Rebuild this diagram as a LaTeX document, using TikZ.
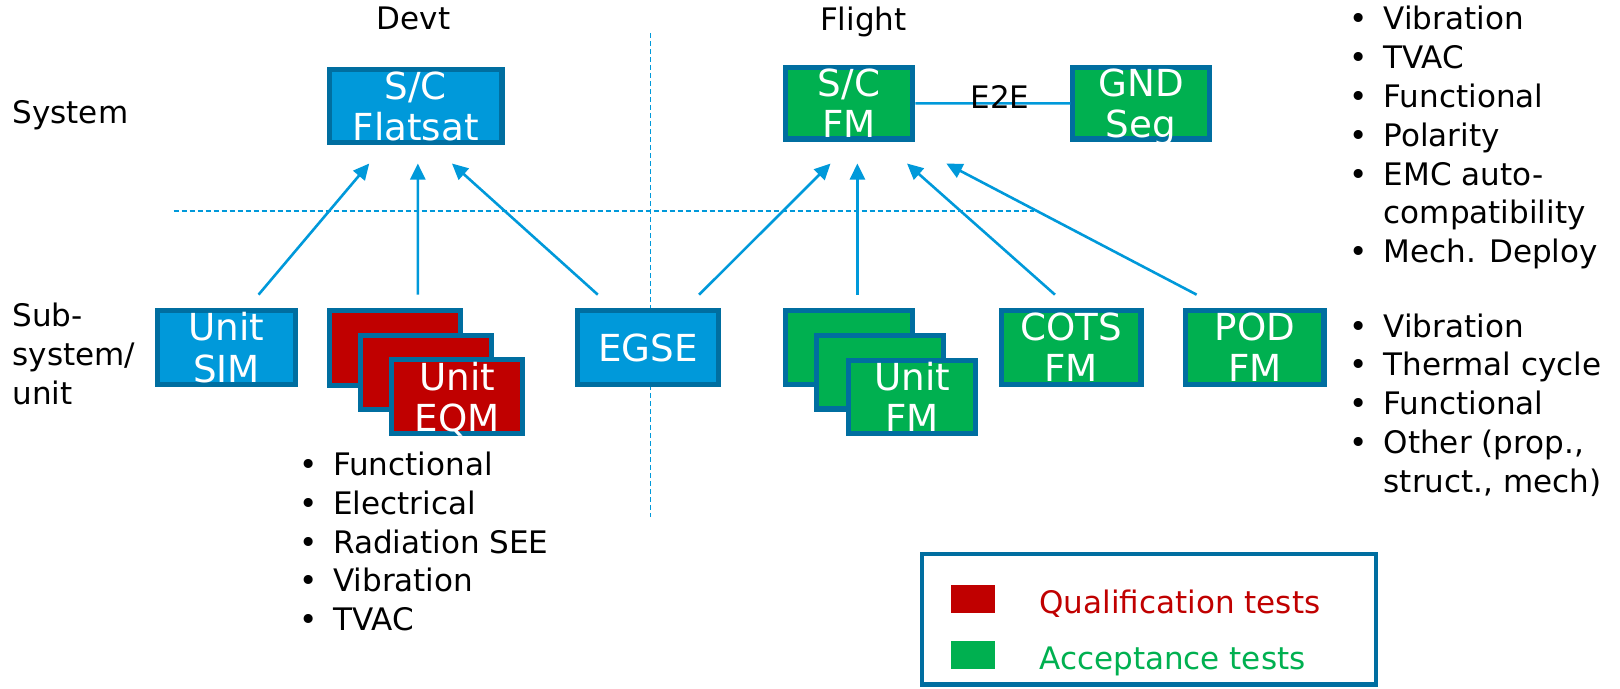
\documentclass[tikz,border=0pt]{standalone}
\usepackage{fontspec}
\setmainfont{DejaVu Sans}
\usetikzlibrary{arrows.meta,calc}

\definecolor{skyblue}{RGB}{0,153,218}
\definecolor{edgeblue}{RGB}{0,110,160}
\definecolor{qualred}{RGB}{192,0,0}
\definecolor{accgreen}{RGB}{0,176,80}

\newcommand{\bul}[1]{\makebox[33pt][l]{\textbullet}#1}
\newcommand{\cont}[1]{\hspace*{33pt}#1}

\begin{document}
\begin{tikzpicture}[x=1pt,y=-1pt,scale=1.034,transform shape,
    box/.style={draw=edgeblue,line width=5.2pt,text=white,align=center,inner sep=0pt,
      text depth=0pt,font=\fontsize{36}{40}\selectfont},
    devbox/.style={box,fill=skyblue},
    qualbox/.style={box,fill=qualred},
    flightbox/.style={box,fill=accgreen},
    heading/.style={font=\fontsize{30}{37.5}\selectfont,inner sep=0pt,text depth=0pt},
    bullets/.style={heading,align=left,anchor=north west},
    feed/.style={-{Triangle[length=16pt,width=15pt]},skyblue,line width=2.6pt},
    divider/.style={skyblue,line width=1.8pt,dash pattern=on 5pt off 3pt}]

  \useasboundingbox (0,0) rectangle (1566.7,666.3);

  % dividers
  \draw[divider] (629,32) -- (629,500);
  \draw[divider] (168,204) -- (1000,204);

  % headings
  \node[heading] (devt) at (400,18) {Devt};
  \node[heading] (flight) at (835,18) {Flight};
  \node[heading,anchor=west] (system) at (12,108) {System};
  \node[heading,anchor=west,align=left] (subsys) at (12,342) {Sub-\\system/\\unit};

  % system level
  \node[devbox,minimum width=167,minimum height=70] (flatsat) at (402,102.5) {S/C\\Flatsat};
  \node[flightbox,minimum width=123,minimum height=69] (scfm) at (821,100) {S/C\\FM};
  \node[flightbox,minimum width=132,minimum height=69] (gnd) at (1103.5,100) {GND\\Seg};
  \draw[skyblue,line width=2.6pt] (scfm) -- (gnd);
  \node[heading] (e2e) at (967,94) {E2E};

  % unit level
  \node[devbox,minimum width=133,minimum height=71] (sim) at (219,336) {Unit\\SIM};
  \node[qualbox,minimum width=127,minimum height=72] (eqma) at (382,336.5) {};
  \node[qualbox,minimum width=127,minimum height=72] (eqmb) at ($(eqma)+(30,23.5)$) {};
  \node[qualbox,minimum width=127,minimum height=72] (eqm) at ($(eqma)+(60,47)$) {Unit\\EQM};
  \node[devbox,minimum width=136,minimum height=71] (egse) at (626.5,336) {EGSE};
  \node[flightbox,minimum width=123,minimum height=71] (ufma) at (821,336) {};
  \node[flightbox,minimum width=123,minimum height=71] (ufmb) at ($(ufma)+(30,24)$) {};
  \node[flightbox,minimum width=123,minimum height=71] (ufm) at ($(ufma)+(61,48)$) {Unit\\FM};
  \node[flightbox,minimum width=135,minimum height=71] (cots) at (1036,336) {COTS\\FM};
  \node[flightbox,minimum width=134,minimum height=71] (pod) at (1213.5,336) {POD\\FM};

  % integration arrows
  \draw[feed] ($(sim.north)+(31,-13)$) -- ($(flatsat.south)+(-45,18)$);
  \draw[feed] ($(eqma.north)+(22,-13)$) -- ($(flatsat.south)+(2,18)$);
  \draw[feed] ($(egse.north)+(-48.5,-13)$) -- ($(flatsat.south)+(35,18)$);
  \draw[feed] ($(egse.north)+(49.5,-13)$) -- ($(scfm.south)+(-18,21)$);
  \draw[feed] ($(ufma.north)+(8,-13)$) -- ($(scfm.south)+(8,21)$);
  \draw[feed] ($(cots.north)+(-16,-13)$) -- ($(scfm.south)+(56,21)$);
  \draw[feed] ($(pod.north)+(-56.5,-13)$) -- ($(scfm.south)+(94,21)$);

  % test lists
  \node[bullets] (systests) at (1305,6) {\bul{Vibration}\\\bul{TVAC}\\\bul{Functional}\\
    \bul{Polarity}\\\bul{EMC auto-}\\\cont{compatibility}\\\bul{Mech. Deploy}};
  \node[bullets] (unittests) at (1305,303) {\bul{Vibration}\\\bul{Thermal cycle}\\
    \bul{Functional}\\\bul{Other (prop.,}\\\cont{struct., mech)}};
  \node[bullets] (eqmtests) at (289,437) {\bul{Functional}\\\bul{Electrical}\\
    \bul{Radiation SEE}\\\bul{Vibration}\\\bul{TVAC}};

  % legend
  \node[draw=edgeblue,line width=4.2pt,minimum width=439,minimum height=126,inner sep=0pt] (legend) at (1111.5,599) {};
  \node[fill=qualred,minimum width=42,minimum height=27,inner sep=0pt] (qualkey) at (941,579.5) {};
  \node[fill=accgreen,minimum width=42,minimum height=27,inner sep=0pt] (acckey) at (941,633.5) {};
  \node[heading,anchor=west,text=qualred] (qualtext) at (1005,582) {Qualification tests};
  \node[heading,anchor=west,text=accgreen] (acctext) at (1005,637) {Acceptance tests};

\end{tikzpicture}
\end{document}
